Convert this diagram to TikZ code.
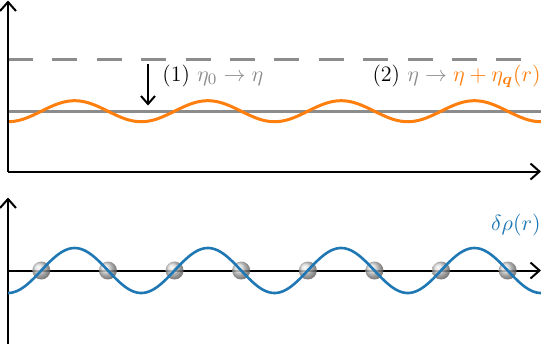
\documentclass[tikz,border=0pt]{standalone}
\usepackage{amsmath,bm}
\usetikzlibrary{arrows.meta}
\definecolor{mplorange}{HTML}{FF7F0E}
\definecolor{mplblue}{HTML}{1F77B4}
\definecolor{lgray}{HTML}{8C8C8C}
\tikzset{
  axis/.style={line width=1pt,-{Straight Barb[length=4.5pt,width=8pt]}},
  refline/.style={lgray,line width=1.5pt},
  lbl/.style={inner sep=0pt,font=\fontsize{11}{13}\selectfont},
  ballstyle/.style={circle,inner sep=0pt,minimum size=9pt,shading=ball,ball color=black!18,opacity=0.8}
}
\begin{document}
\begin{tikzpicture}[x=0.5pt,y=-0.5pt]
\useasboundingbox (0,0) rectangle (541,344);
% top panel
\coordinate (o1) at (8,171.5);
\coordinate (t1) at (8,0.5);
\coordinate (r1) at (541,171.5);
\draw[refline,dash pattern=on 12.5pt off 9.7pt] (8,59) coordinate (d0) -- (522,59) coordinate (d1);
\draw[refline] (8,111) coordinate (g0) -- (541,111) coordinate (g1);
\draw[mplorange,line width=1.5pt] plot[domain=8:541,samples=240,smooth] (\x,{111.2+10.5*cos(2.70169*(\x-8))});
\draw[axis] (o1) -- (t1);
\draw[axis] (o1) -- (r1);
\coordinate (a0) at (148,64);
\coordinate (a1) at (148,105.5);
\draw[line width=1pt,-{Straight Barb[length=4pt,width=7pt]}] (a0) -- (a1);
\node[lbl,anchor=west] (l1) at (162,76) {(1) $\color{lgray}\eta_0\to\eta$};
\node[lbl,anchor=east] (l2) at (541,76) {(2) $\color{lgray}\eta\to\color{mplorange}\eta+\eta_{\bm{q}}(r)$};
% bottom panel
\coordinate (o2) at (8,344);
\coordinate (t2) at (8,197.5);
\coordinate (z0) at (8,270.5);
\coordinate (r2) at (541,270.5);
\draw[axis] (o2) -- (t2);
\draw[axis] (z0) -- (r2);
\foreach \k in {0,...,7}{
  \node[ballstyle] (b\k) at ({8+133.25*(0.25+0.5*\k)},270.5) {};
}
\draw[mplblue,line width=1.3pt] plot[domain=8:541,samples=240,smooth] (\x,{270.5+22.5*cos(2.70169*(\x-8))});
\node[lbl,anchor=east,text=mplblue] (l3) at (541,225) {$\delta\rho(r)$};
\end{tikzpicture}
\end{document}
